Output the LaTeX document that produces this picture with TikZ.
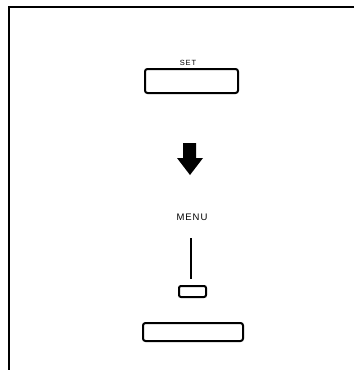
\documentclass[tikz,border=0pt]{standalone}
\usepackage{fontspec}
\setmainfont{Liberation Sans}
\begin{document}
\begin{tikzpicture}[x=1pt,y=-1pt,
  frame/.style={line width=1.8pt},
  keybox/.style={draw,line width=2pt,rounded corners=2.5pt},
  lbl/.style={inner sep=0pt,font=\fontsize{9.5}{10}\selectfont\addfontfeature{LetterSpace=10}}]
\useasboundingbox (0,0) rectangle (354,370);
\coordinate (tl) at (9,7);
\coordinate (tr) at (354,7);
\coordinate (bl) at (9,370);
\draw[frame] (tr) -- (tl) -- (bl);
% SET button
\node[lbl,font=\fontsize{7.5}{8}\selectfont\addfontfeature{LetterSpace=12}] (setlbl) at (188,63) {SET};
\draw[keybox] (145,69) rectangle (238,93);
% arrow
\fill (183,143) -- (196,143) -- (196,158) -- (203,158) -- (190,175) -- (177,158) -- (183,158) -- cycle;
% MENU
\node[lbl] (menulbl) at (192,217) {MENU};
\coordinate (ltop) at (191,238);
\coordinate (lbot) at (191,279);
\draw[line width=1.7pt] (ltop) -- (lbot);
\draw[keybox,rounded corners=2pt] (179,286) rectangle (206,297);
\draw[keybox] (143,323) rectangle (243,341);
\end{tikzpicture}
\end{document}
